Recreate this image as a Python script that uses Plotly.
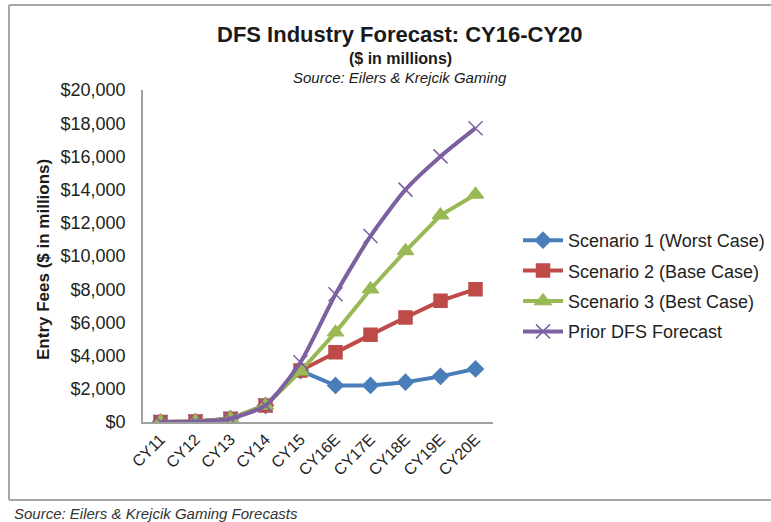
import plotly.graph_objects as go

categories = ["CY11", "CY12", "CY13", "CY14", "CY15", "CY16E", "CY17E", "CY18E", "CY19E", "CY20E"]
scenario1 = [0, 30, 200, 1000, 3100, 2200, 2200, 2400, 2750, 3200]
scenario2 = [0, 30, 200, 1000, 3100, 4200, 5250, 6300, 7300, 8000]
scenario3 = [0, 30, 200, 1000, 3050, 5400, 8000, 10300, 12450, 13700]
prior = [0, 30, 200, 1000, 3600, 7700, 11200, 14000, 16000, 17700]

names = ["Scenario 1 (Worst Case)", "Scenario 2 (Base Case)", "Scenario 3 (Best Case)", "Prior DFS Forecast"]
colors = ["#4A7EBB", "#BE4B48", "#98B954", "#7D60A0"]
symbols = ["diamond", "square", "triangle-up", "x-thin-open"]
sizes = [12, 13, 14, 14]
series = [scenario1, scenario2, scenario3, prior]

fig = go.Figure()
for i, (name, vals, c, s, sz) in enumerate(zip(names, series, colors, symbols, sizes)):
    fig.add_trace(go.Scatter(
        x=categories, y=vals, name=name, mode="lines+markers", legendgroup=f"g{i}",
        line=dict(color=c, width=4, shape="spline" if s == "x-thin-open" else "linear", smoothing=0.6),
        marker=dict(symbol=s, size=sz, color=c, line=dict(color=c, width=1.5)),
    ))

W, H = 771, 522
L, R, T, B = 143, 493, 90, 422

def px(x):
    return (x - L) / (R - L)

def py(y):
    return (B - y) / (B - T)

font = "Liberation Sans, Arial, sans-serif"
border = "#A6A6A6"
shapes = [
    dict(type="line", xref="paper", yref="paper", x0=px(9), x1=px(771), y0=py(5), y1=py(5), line=dict(color=border, width=2)),
    dict(type="line", xref="paper", yref="paper", x0=px(9), x1=px(9), y0=py(5), y1=py(500), line=dict(color=border, width=2)),
    dict(type="line", xref="paper", yref="paper", x0=px(9), x1=px(771), y0=py(500), y1=py(500), line=dict(color=border, width=2)),
]

annotations = [
    dict(text="<b>DFS Industry Forecast: CY16-CY20</b>", x=px(400), y=py(35), xref="paper", yref="paper",
         xanchor="center", yanchor="middle", showarrow=False, font=dict(size=22, color="#1a1a1a", family=font)),
    dict(text="<b>($ in millions)</b>", x=px(400), y=py(59), xref="paper", yref="paper",
         xanchor="center", yanchor="middle", showarrow=False, font=dict(size=16, color="#1a1a1a", family=font)),
    dict(text="<i>Source: Eilers &amp; Krejcik Gaming</i>", x=px(400), y=py(77.5), xref="paper", yref="paper",
         xanchor="center", yanchor="middle", showarrow=False, font=dict(size=15, color="#1a1a1a", family=font)),
    dict(text="<b>Entry Fees ($ in millions)</b>", x=px(43), y=py(260), xref="paper", yref="paper",
         xanchor="center", yanchor="middle", showarrow=False, textangle=-90,
         font=dict(size=17, color="#1a1a1a", family=font)),
    dict(text="<i>Source: Eilers &amp; Krejcik Gaming Forecasts</i>", x=px(12), y=py(513), xref="paper", yref="paper",
         xanchor="left", yanchor="middle", showarrow=False, font=dict(size=15, color="#333333", family=font)),
]

fig.update_layout(
    width=W, height=H,
    margin=dict(l=L, r=W - R, t=T, b=H - B, autoexpand=False),
    paper_bgcolor="white", plot_bgcolor="white",
    font=dict(family=font, size=14, color="#222222"),
    showlegend=True,
    legend=dict(x=px(518), y=py(222), xanchor="left", yanchor="top", font=dict(size=18, color="#222222"),
                itemwidth=40, tracegroupgap=4, bgcolor="rgba(0,0,0,0)"),
    shapes=shapes, annotations=annotations,
    xaxis=dict(type="category", range=[-0.5, 9.5], showline=True, linecolor="#A0A0A0", linewidth=1.5,
               showgrid=False, ticks="", tickangle=-45, automargin=False, tickfont=dict(size=16, color="#222222")),
    yaxis=dict(range=[0, 20000], dtick=2000, tickprefix="$", tickformat=",", showline=True,
               linecolor="#A0A0A0", linewidth=1.5, showgrid=False, ticks="", zeroline=False, automargin=False,
               ticklabelstandoff=12, tickfont=dict(size=18, color="#222222")),
)

fig.write_html("out.html")
